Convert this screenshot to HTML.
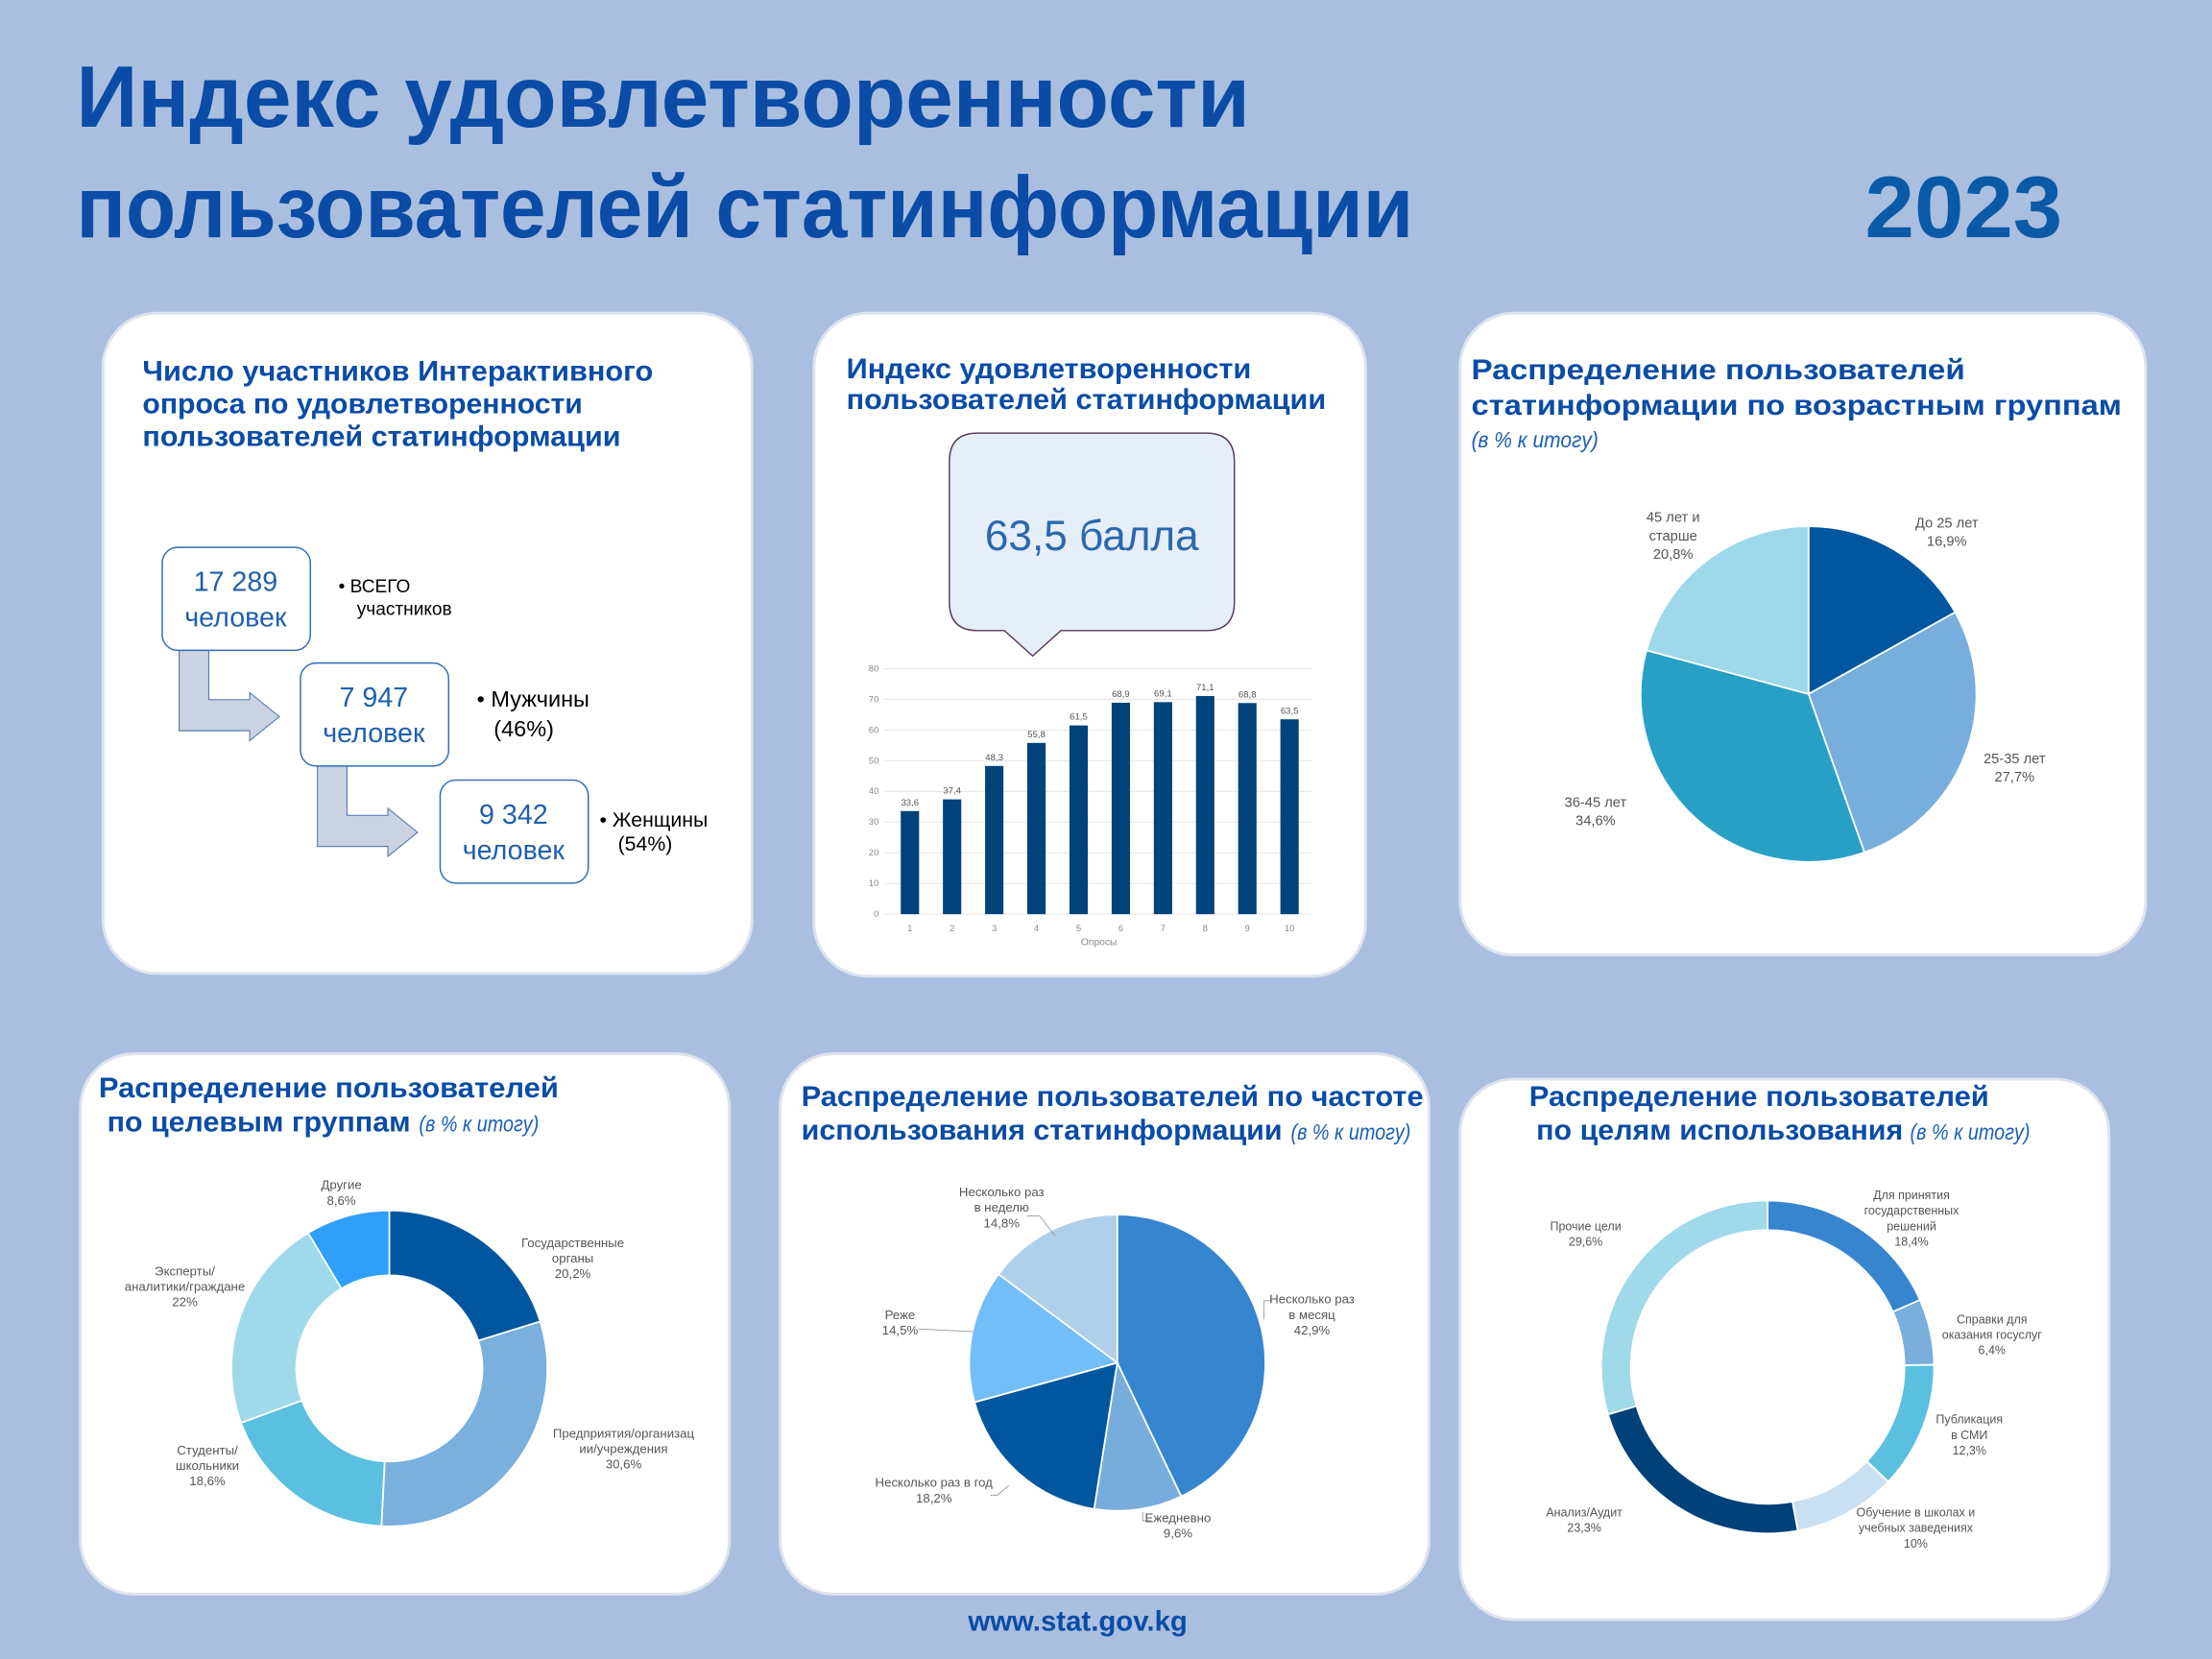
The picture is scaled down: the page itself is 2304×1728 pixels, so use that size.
<!DOCTYPE html>
<html><head><meta charset="utf-8"><style>
html,body{margin:0;padding:0;background:#aabfdf;}
svg{display:block;}
text{font-family:"Liberation Sans","DejaVu Sans",sans-serif;}
.t{font-weight:bold;fill:#0a4ca6;font-size:20px;}
.it{font-style:italic;font-weight:normal;font-size:16px;fill:#1a5fb4;}
.l{font-size:10px;fill:#555;text-anchor:middle;}
.ax{font-size:6.5px;fill:#888;}
</style></head><body>
<svg id="s" width="2304" height="1728" viewBox="0 0 1568 1176" xmlns="http://www.w3.org/2000/svg">
<rect width="1568" height="1176" fill="#aabfdf"/>
<text x="54" y="90" textLength="832" lengthAdjust="spacingAndGlyphs" style="font-size:62px;font-weight:bold;fill:#0a4ca6">Индекс удовлетворенности</text>
<text x="54" y="168" textLength="948" lengthAdjust="spacingAndGlyphs" style="font-size:62px;font-weight:bold;fill:#0a4ca6">пользователей статинформации</text>
<text x="1322" y="168" textLength="140" lengthAdjust="spacingAndGlyphs" style="font-size:62px;font-weight:bold;fill:#0a5aa8">2023</text>

<g fill="#fff" stroke="#dde3ee" stroke-width="2">
<rect x="73" y="222" width="460" height="468" rx="38"/>
<rect x="577" y="222" width="391" height="470" rx="38"/>
<rect x="1035" y="222" width="486" height="455" rx="38"/>
<rect x="57" y="747" width="460" height="383" rx="38"/>
<rect x="553" y="747" width="460" height="383" rx="38"/>
<rect x="1035" y="765" width="460" height="383" rx="38"/>
</g>

<!-- card 1 -->
<text class="t" x="101" y="270" textLength="362" lengthAdjust="spacingAndGlyphs">Число участников Интерактивного</text>
<text class="t" x="101" y="293" textLength="312" lengthAdjust="spacingAndGlyphs">опроса по удовлетворенности</text>
<text class="t" x="101" y="316" textLength="339" lengthAdjust="spacingAndGlyphs">пользователей статинформации</text>
<g fill="#cbd3e3" stroke="#5a7fb5" stroke-width="0.8">
<polygon points="127,461 148,461 148,496 177,496 177,491 198,508 177,525 177,518 127,518"/>
<polygon points="225,543 246,543 246,578 275,578 275,573 296,590 275,607 275,600 225,600"/>
</g>
<g fill="#fff" stroke="#2f6db5" stroke-width="1">
<rect x="115" y="388" width="105" height="73" rx="11"/>
<rect x="213" y="470" width="105" height="73" rx="11"/>
<rect x="312" y="553" width="105" height="73" rx="11"/>
</g>
<g style="font-size:19.5px;fill:#1f5fae" text-anchor="middle">
<text x="167" y="419">17 289</text><text x="167" y="444">человек</text>
<text x="265" y="501">7 947</text><text x="265" y="526">человек</text>
<text x="364" y="584">9 342</text><text x="364" y="609">человек</text>
</g>
<text x="240" y="420" style="font-size:13px">• ВСЕГО</text>
<text x="253" y="436" style="font-size:13px">участников</text>
<text x="338" y="501" style="font-size:16px">• Мужчины</text>
<text x="350" y="522" style="font-size:16px">(46%)</text>
<text x="425" y="586" style="font-size:14.5px">• Женщины</text>
<text x="438" y="603" style="font-size:14.5px">(54%)</text>

<!-- card 2 -->
<text class="t" x="600" y="268" textLength="287" lengthAdjust="spacingAndGlyphs">Индекс удовлетворенности</text>
<text class="t" x="600" y="290" textLength="340" lengthAdjust="spacingAndGlyphs">пользователей статинформации</text>
<path d="M693,307 H855 Q875,307 875,327 V427 Q875,447 855,447 H752 L732,465 L712,447 H693 Q673,447 673,427 V327 Q673,307 693,307 Z" fill="#e6eef9" stroke="#5a3a5f" stroke-width="1"/>
<text x="774" y="390" text-anchor="middle" style="font-size:30px;fill:#2a68ad">63,5 балла</text>
<g id="bars"></g>

<!-- card 3 -->
<text class="t" x="1043" y="269" textLength="350" lengthAdjust="spacingAndGlyphs">Распределение пользователей</text>
<text class="t" x="1043" y="294" textLength="461" lengthAdjust="spacingAndGlyphs">статинформации по возрастным группам</text>
<text class="it" x="1043" y="317" textLength="90" lengthAdjust="spacingAndGlyphs">(в % к итогу)</text>
<g id="p3"></g>
<g class="l">
<text x="1380" y="374">До 25 лет</text><text x="1380" y="387">16,9%</text>
<text x="1428" y="541">25-35 лет</text><text x="1428" y="554">27,7%</text>
<text x="1131" y="572">36-45 лет</text><text x="1131" y="585">34,6%</text>
<text x="1186" y="370">45 лет и</text><text x="1186" y="383">старше</text><text x="1186" y="396">20,8%</text>
</g>

<!-- card 4 -->
<text class="t" x="70" y="778" textLength="326" lengthAdjust="spacingAndGlyphs">Распределение пользователей</text>
<text class="t" x="76" y="802" textLength="215" lengthAdjust="spacingAndGlyphs">по целевым группам</text>
<text class="it" x="297" y="802" textLength="85" lengthAdjust="spacingAndGlyphs">(в % к итогу)</text>
<g id="p4"></g>
<g class="l" style="font-size:9px">
<text x="242" y="843">Другие</text><text x="242" y="854">8,6%</text>
<text x="406" y="884">Государственные</text><text x="406" y="895">органы</text><text x="406" y="906">20,2%</text>
<text x="442" y="1019">Предприятия/организац</text><text x="442" y="1030">ии/учреждения</text><text x="442" y="1041">30,6%</text>
<text x="147" y="1031">Студенты/</text><text x="147" y="1042">школьники</text><text x="147" y="1053">18,6%</text>
<text x="131" y="904">Эксперты/</text><text x="131" y="915">аналитики/граждане</text><text x="131" y="926">22%</text>
</g>

<!-- card 5 -->
<text class="t" x="568" y="784" textLength="441" lengthAdjust="spacingAndGlyphs">Распределение пользователей по частоте</text>
<text class="t" x="568" y="808" textLength="341" lengthAdjust="spacingAndGlyphs">использования статинформации</text>
<text class="it" x="915" y="808" textLength="85" lengthAdjust="spacingAndGlyphs">(в % к итогу)</text>
<g id="p5"></g>
<g fill="none" stroke="#999" stroke-width="0.6">
<polyline points="728,862 737,862 748,876"/>
<polyline points="651,942 690,944"/>
<polyline points="702,1060 707,1060 715,1053"/>
<polyline points="810,1072 810,1078 816,1078"/>
<polyline points="896,935 896,922 902,922"/>
</g>
<g class="l" style="font-size:9px">
<text x="710" y="848">Несколько раз</text><text x="710" y="859">в неделю</text><text x="710" y="870">14,8%</text>
<text x="930" y="924">Несколько раз</text><text x="930" y="935">в месяц</text><text x="930" y="946">42,9%</text>
<text x="638" y="935">Реже</text><text x="638" y="946">14,5%</text>
<text x="662" y="1054">Несколько раз в год</text><text x="662" y="1065">18,2%</text>
<text x="835" y="1079">Ежедневно</text><text x="835" y="1090">9,6%</text>
</g>

<!-- card 6 -->
<text class="t" x="1084" y="784" textLength="326" lengthAdjust="spacingAndGlyphs">Распределение пользователей</text>
<text class="t" x="1089" y="808" textLength="260" lengthAdjust="spacingAndGlyphs">по целям использования</text>
<text class="it" x="1354" y="808" textLength="85" lengthAdjust="spacingAndGlyphs">(в % к итогу)</text>
<g id="p6"></g>
<g class="l" style="font-size:8.5px">
<text x="1355" y="850">Для принятия</text><text x="1355" y="861">государственных</text><text x="1355" y="872">решений</text><text x="1355" y="883">18,4%</text>
<text x="1412" y="938">Справки для</text><text x="1412" y="949">оказания госуслуг</text><text x="1412" y="960">6,4%</text>
<text x="1396" y="1009">Публикация</text><text x="1396" y="1020">в СМИ</text><text x="1396" y="1031">12,3%</text>
<text x="1358" y="1075">Обучение в школах и</text><text x="1358" y="1086">учебных заведениях</text><text x="1358" y="1097">10%</text>
<text x="1123" y="1075">Анализ/Аудит</text><text x="1123" y="1086">23,3%</text>
<text x="1124" y="872">Прочие цели</text><text x="1124" y="883">29,6%</text>
</g>

<text x="764" y="1156" text-anchor="middle" style="font-size:20px;font-weight:bold;fill:#0a4ca6">www.stat.gov.kg</text>
</svg>
<script>
var NS="http://www.w3.org/2000/svg";
function el(p,t,a){var e=document.createElementNS(NS,t);for(var k in a)e.setAttribute(k,a[k]);document.getElementById(p).appendChild(e);return e;}
function pie(id,cx,cy,r,ri,vals,cols){
 var tot=vals.reduce(function(a,b){return a+b},0),a0=-Math.PI/2;
 vals.forEach(function(v,i){
  var a1=a0+v/tot*2*Math.PI,lg=(a1-a0)>Math.PI?1:0;
  var x0=cx+r*Math.cos(a0),y0=cy+r*Math.sin(a0),x1=cx+r*Math.cos(a1),y1=cy+r*Math.sin(a1);
  var d;
  if(ri>0){var u0=cx+ri*Math.cos(a0),v0=cy+ri*Math.sin(a0),u1=cx+ri*Math.cos(a1),v1=cy+ri*Math.sin(a1);
   d="M"+x0+","+y0+"A"+r+","+r+" 0 "+lg+" 1 "+x1+","+y1+"L"+u1+","+v1+"A"+ri+","+ri+" 0 "+lg+" 0 "+u0+","+v0+"Z";}
  else d="M"+cx+","+cy+"L"+x0+","+y0+"A"+r+","+r+" 0 "+lg+" 1 "+x1+","+y1+"Z";
  el(id,"path",{d:d,fill:cols[i],stroke:"#fff","stroke-width":1.2});
  a0=a1;});
}
pie("p3",1282,492,119,0,[16.9,27.7,34.6,20.8],["#0057a0","#78aede","#28a0c6","#9fd8ea"]);
pie("p4",276,970,112,66,[20.2,30.6,18.6,22,8.6],["#0057a0","#7aafde","#5bc0df","#a0d9ea","#2f9ffa"]);
pie("p5",792,966,105,0,[42.9,9.6,18.2,14.5,14.8],["#3585cf","#78acdc","#0057a0","#73bdf9","#b0cfeb"]);
pie("p6",1253,969,118,97,[18.4,6.4,12.3,10,23.3,29.6],["#3585cf","#7aaedc","#5bc0df","#c9e0f3","#004179","#9fd9ea"]);
var y0=648,k=2.175,x0=645,st=29.9;
for(var g=0;g<=80;g+=10){var y=y0-g*k;
 el("bars","line",{x1:627,x2:930,y1:y,y2:y,stroke:"#e6e6e6","stroke-width":0.7});
 var t=el("bars","text",{x:623,y:y+2,"text-anchor":"end",class:"ax"});t.textContent=g;}
var v=[33.6,37.4,48.3,55.8,61.5,68.9,69.1,71.1,68.8,63.5];
v.forEach(function(d,i){var x=x0+i*st;
 el("bars","rect",{x:x-6.5,y:y0-d*k,width:13,height:d*k,fill:"#00427a"});
 var t=el("bars","text",{x:x,y:y0-d*k-4,"text-anchor":"middle",class:"ax",style:"fill:#555"});t.textContent=String(d).replace(".",",");
 var u=el("bars","text",{x:x,y:660,"text-anchor":"middle",class:"ax"});u.textContent=i+1;});
var o=el("bars","text",{x:779,y:670,"text-anchor":"middle",class:"ax",style:"font-size:7px"});o.textContent="Опросы";
</script>
</body></html>
